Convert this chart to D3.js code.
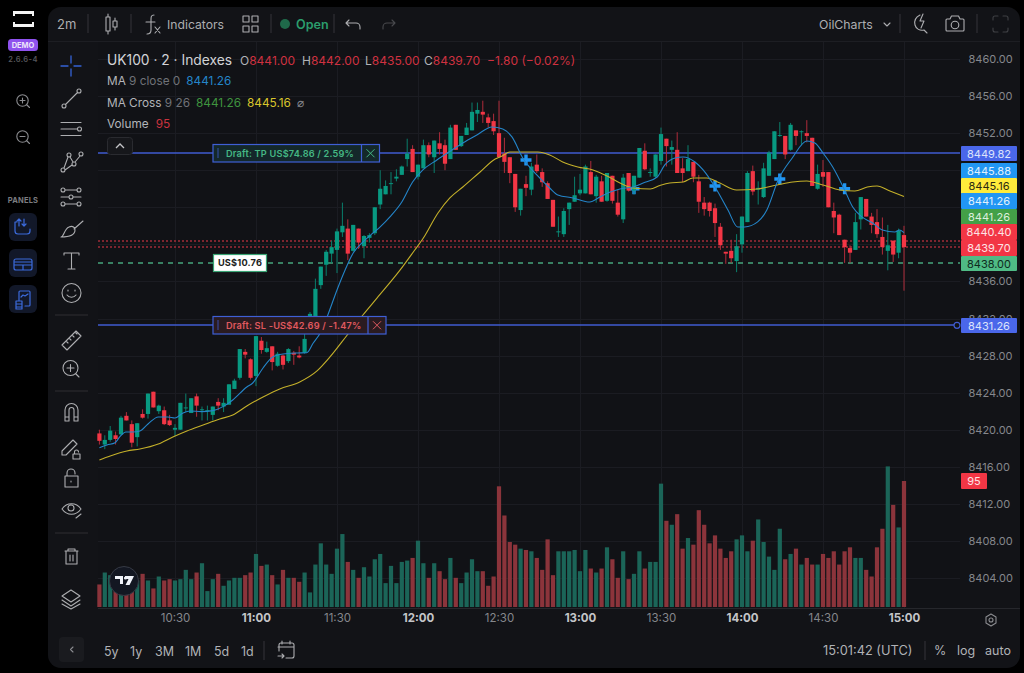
<!DOCTYPE html>
<html>
<head>
<meta charset="utf-8">
<script src="https://d3js.org/d3.v7.min.js"></script>
<style>
html, body { margin: 0; padding: 0; background: #000; overflow: hidden; }
svg { display: block; font-family: Inter, Roboto, sans-serif; }
</style>
</head>
<body>
<script>
// candles, one per 2 minute bar, 10:02 to 15:00
const opens = [
8419.6,8418.4,8418.9,8419.4,8419.5,8421.5,8420.6,8419.2,8421.7,8421.7,
8424.1,8422.0,8422.1,8421.0,8420.0,8420.0,8422.3,8421.8,8423.6,8422.1,
8422.0,8421.6,8423.0,8422.5,8422.7,8424.4,8425.6,8428.4,8427.6,8425.8,
8429.6,8428.4,8429.0,8426.9,8428.0,8427.4,8428.3,8428.0,8428.3,8430.8,
8431.3,8435.6,8437.8,8439.0,8439.4,8441.3,8441.7,8439.3,8441.7,8439.8,
8440.7,8441.2,8444.3,8445.4,8446.5,8447.1,8447.5,8449.2,8450.3,8447.3,
8448.2,8450.7,8449.4,8450.9,8450.7,8449.2,8452.9,8450.6,8451.8,8452.3,
8454.1,8454.3,8453.7,8453.3,8452.0,8449.8,8449.4,8447.6,8443.7,8446.5,
8445.9,8448.6,8447.8,8446.6,8444.8,8441.3,8441.1,8443.8,8444.6,8445.5,
8445.5,8447.8,8445.2,8446.8,8444.7,8447.4,8444.5,8442.7,8447.7,8445.8,
8447.2,8450.1,8447.7,8447.3,8449.0,8451.4,8450.2,8450.2,8448.2,8447.9,
8448.9,8446.8,8444.5,8444.5,8443.9,8441.9,8439.2,8439.3,8438.2,8440.0,
8442.4,8447.9,8445.9,8445.1,8447.4,8449.2,8451.7,8451.7,8450.2,8452.3,
8452.1,8452.0,8451.5,8446.0,8447.8,8447.8,8443.6,8443.2,8440.5,8439.6,
8439.4,8442.7,8444.9,8443.0,8442.4,8440.8,8439.3,8440.4,8439.1,8441.0]
const closes = [
8418.8,8418.9,8419.9,8419.0,8421.3,8421.0,8418.6,8420.7,8421.3,8423.9,
8422.4,8422.6,8420.6,8420.5,8420.2,8422.9,8422.4,8423.4,8422.6,8422.2,
8422.1,8422.5,8422.6,8422.9,8424.9,8425.3,8428.7,8428.1,8425.6,8430.1,
8428.6,8428.8,8427.3,8428.2,8427.0,8428.7,8428.1,8427.8,8429.8,8432.5,
8435.2,8437.6,8439.2,8439.7,8441.4,8442.0,8439.0,8442.1,8440.2,8440.9,
8441.0,8444.0,8446.0,8446.3,8446.6,8447.3,8448.4,8449.8,8447.8,8448.6,
8450.7,8449.7,8451.2,8450.3,8448.7,8452.6,8450.2,8451.7,8452.6,8454.3,
8454.5,8454.0,8453.1,8452.2,8449.4,8448.9,8447.7,8444.0,8446.0,8446.1,
8448.4,8447.9,8446.7,8444.9,8441.9,8441.4,8443.6,8444.5,8445.3,8445.9,
8448.4,8445.4,8447.3,8444.6,8447.7,8444.7,8443.2,8447.2,8445.8,8447.4,
8450.4,8448.1,8447.8,8449.7,8451.9,8450.6,8450.5,8447.7,8447.7,8449.2,
8447.3,8444.6,8443.8,8443.6,8442.3,8439.9,8439.0,8438.5,8439.8,8443.0,
8447.7,8445.7,8446.1,8448.2,8449.9,8452.2,8451.8,8449.7,8452.9,8451.7,
8452.2,8451.7,8446.3,8447.6,8447.3,8444.0,8442.9,8441.0,8439.7,8439.1,
8442.4,8445.1,8443.0,8442.1,8441.1,8439.7,8439.9,8438.9,8441.5,8439.7]
const highs = [
8420.0,8419.4,8420.4,8419.8,8421.5,8421.9,8421.0,8420.7,8422.2,8423.9,
8424.1,8422.7,8422.5,8421.6,8420.6,8422.9,8423.9,8423.4,8423.9,8422.5,
8422.6,8422.5,8423.4,8423.4,8424.9,8425.5,8428.7,8428.7,8427.7,8430.1,
8430.0,8429.5,8429.0,8428.4,8428.1,8428.8,8428.5,8429.0,8430.4,8432.7,
8436.3,8437.6,8439.4,8440.4,8441.7,8444.5,8442.7,8442.1,8441.7,8441.0,
8441.2,8444.0,8448.0,8446.9,8447.8,8448.1,8448.5,8451.4,8450.7,8448.6,
8451.3,8451.0,8451.2,8452.1,8451.3,8452.9,8452.9,8451.7,8453.1,8455.3,
8455.3,8455.5,8454.1,8454.1,8455.5,8451.5,8449.4,8447.6,8446.0,8447.4,
8448.8,8449.7,8448.2,8446.8,8444.8,8443.0,8443.9,8444.5,8447.3,8447.6,
8448.6,8449.0,8447.5,8447.4,8447.7,8447.4,8445.9,8447.6,8447.7,8447.4,
8450.4,8450.9,8448.2,8449.7,8452.6,8451.4,8451.2,8452.1,8449.3,8450.7,
8448.9,8447.5,8445.1,8444.6,8444.4,8442.3,8439.2,8440.5,8441.1,8443.0,
8447.9,8448.5,8446.8,8448.8,8450.1,8452.2,8453.2,8451.7,8453.1,8452.3,
8452.3,8453.4,8451.5,8448.6,8449.1,8447.8,8444.5,8443.3,8440.5,8439.9,
8443.4,8445.1,8444.9,8443.4,8443.8,8442.9,8442.1,8440.4,8441.7,8442.0]
const lows = [
8418.4,8417.9,8418.7,8418.4,8419.4,8421.0,8418.1,8418.2,8421.2,8421.2,
8422.4,8421.7,8420.5,8420.4,8419.3,8420.0,8421.9,8421.8,8421.4,8421.0,
8421.0,8421.0,8422.1,8421.9,8422.7,8424.4,8425.4,8427.7,8425.4,8424.7,
8428.2,8428.3,8426.4,8426.8,8426.5,8427.2,8427.0,8427.7,8428.2,8430.4,
8431.3,8435.2,8436.6,8438.0,8436.9,8440.8,8438.3,8439.2,8439.5,8438.5,
8440.2,8441.0,8443.8,8445.4,8445.4,8446.8,8447.5,8448.4,8447.8,8447.0,
8448.2,8449.4,8447.7,8449.7,8448.0,8449.2,8450.2,8450.5,8451.8,8452.3,
8453.2,8453.1,8452.6,8451.8,8449.4,8447.7,8446.6,8443.5,8443.1,8445.2,
8445.3,8447.7,8446.2,8444.9,8441.9,8440.8,8440.8,8442.1,8444.6,8445.3,
8445.5,8445.4,8444.5,8444.6,8444.6,8444.4,8443.0,8442.3,8445.7,8445.4,
8447.2,8448.0,8447.3,8447.2,8448.6,8448.4,8448.6,8447.7,8446.7,8447.9,
8446.7,8443.4,8443.1,8443.0,8440.8,8439.4,8437.9,8438.0,8437.0,8439.1,
8442.4,8445.3,8444.3,8445.0,8447.4,8449.2,8451.6,8449.2,8450.1,8450.7,
8450.7,8451.0,8446.3,8445.9,8446.2,8444.0,8441.2,8441.0,8438.0,8438.0,
8439.4,8441.6,8443.0,8441.2,8440.7,8438.9,8437.2,8438.1,8438.5,8435.0]
const volumes = [
17,26,24,17,15,17,18,20,25,20,
14,23,20,21,20,21,28,21,26,33,
12,21,25,16,20,22,22,24,26,40,
31,32,24,17,28,22,22,19,26,11,
32,48,32,25,44,55,34,28,22,30,
23,36,40,18,31,18,34,35,37,50,
33,22,33,27,21,37,22,18,26,36,
27,27,16,23,91,69,49,47,44,43,
42,37,28,51,24,42,42,42,43,27,
43,29,26,29,45,36,22,42,21,25,
42,29,34,34,93,65,62,70,44,52,
47,73,62,48,54,44,37,42,51,54,
42,50,66,49,38,28,59,36,40,44,
32,37,32,32,40,37,42,32,42,45,
37,37,28,23,45,59,106,77,60,95]

// moving average lines at these bar positions
const ma9Bars = [0,1.4,2.9,3.8,4.9,6.2,7.5,9,10.9,12.7,14,15.5,16.8,18.9,21,22.9,24.7,27.3,28.4,30.3,32.1,34,36.6,38.4,39.6,40.9,42.3,44,45.5,47,48.8,50.7,52,53.8,56,58,59.9,62.5,65.3,67.3,69.9,72.7,74.7,76.4,78.4,81,83.4,84.9,87.7,90.8,92.7,94.6,96.4,98.8,100.7,103.3,104.7,106.6,108.1,110.3,111.8,114,116.4,118.2,119.5,121.9,123.6,125.7,128.3,131,132.5,134,135.8,138,139.5,141.2,143.2,145,147.3,148.2,149]
const ma9Values = [8418.06,8418.35,8418.6,8419.25,8419.76,8419.76,8419.87,8420.62,8421.38,8421.38,8421.27,8421.81,8422.02,8421.95,8422.06,8422.49,8423.21,8424.61,8425.04,8426.66,8427.85,8428.17,8428.28,8428.31,8429.36,8430.44,8432.38,8435.08,8437.24,8439.07,8440.26,8441.23,8441.88,8442.96,8444.57,8446.73,8448.03,8449.11,8450.18,8450.94,8451.8,8452.67,8452.45,8451.59,8449.32,8447.49,8446.08,8445.33,8445.01,8444.57,8445.11,8445.65,8445.98,8446.19,8446.62,8447.27,8448.57,8449.32,8449.43,8448.89,8448.03,8446.19,8443.71,8441.88,8441.88,8442.42,8443.71,8446.95,8449.32,8451.16,8450.94,8449.86,8448.35,8445.87,8444.03,8442.96,8442.31,8441.55,8441.34,8441.55,8441.26]
const ma26Bars = [0,2,5.1,7.5,10.9,13.6,16.2,19.2,22.3,24.7,27.3,30.3,33.4,37.1,40.3,42.7,45.9,48.8,51.4,55.7,58.4,59.9,62.7,64.9,67.3,70.5,73.3,74.6,76,78.4,81.2,83.4,85.8,88.6,91.4,94,96.4,98.8,102,103.8,105.6,108.1,109.9,112.5,114.9,118,121.8,125.5,128.4,131,134,137.1,139.9,142.2,144,146.4,149]
const ma26Values = [8416.74,8417.17,8417.71,8417.92,8418.46,8419.22,8419.87,8420.51,8421.16,8421.59,8422.56,8423.53,8424.4,8425.15,8426.34,8427.85,8430.22,8432.38,8434.2,8437.24,8439.39,8440.6,8443.39,8445.01,8446.19,8447.81,8449.21,8449.54,8449.97,8449.97,8449.97,8449.65,8448.89,8448.35,8448.03,8447.38,8446.62,8446.08,8445.98,8446.35,8446.62,8446.73,8447.16,8447.16,8446.62,8445.87,8445.98,8446.41,8446.73,8446.84,8446.41,8445.87,8445.76,8446.19,8446.3,8445.76,8445.16]

// blue cross markers
const crossBars = [79,99,114,126,138]
const crossValues = [8449.1,8446.0,8446.3,8447.05,8446.0]

// axes
const priceTicks = [8460,8456,8452,8436,8432,8428,8424,8420,8416,8412,8408,8404]
const gridPrices = [8460,8456,8452,8448,8444,8440,8436,8432,8428,8424,8420,8416,8412,8408,8404]
const timeBars = [14,29,44,59,74,89,104,119,134,149]
const timeLabels = ['10:30','11:00','11:30','12:00','12:30','13:00','13:30','14:00','14:30','15:00']

// price tags on the axis
const tagPrices = [8449.82,8445.88,8445.16,8441.26,8441.26,8440.40,8439.70,8438.00,8431.26]
const tagTops = [146,163,178,193,209,224,240,256,318]
const tagFills = ['#4a67ea','#2196f3','#ffeb3b','#2196f3','#43a047','#f23645','#f23645','#4fbb85','#4a67ea']
const tagInks = ['#dde3fb','#e2f1fd','#2a2a12','#e2f1fd','#dcefdd','#fde4e6','#fde4e6','#0f2a1e','#dde3fb']

const width = 1024
const height = 673
const paneLeft = 98
const paneRight = 960
const paneTop = 42
const paneBottom = 608
const upColor = '#089981'
const downColor = '#f23645'
const bodyWidth = 4.2
const iconColor = '#adaeb1'

const svg = d3.select('body').append('svg').attr('width', width).attr('height', height)

const xScale = d3.scaleLinear().domain([0, 149]).range([99.4, 904])
const yScale = d3.scaleLinear().domain([8404, 8460]).range([578, 59])
const volScale = d3.scaleLinear().domain([0, 95]).range([607, 481])
const crisp = v => Math.round(v) + 0.5

const bars = opens.map((open, i) => ({ i, open, close: closes[i], high: highs[i], low: lows[i], volume: volumes[i], up: closes[i] >= open }))

// panel
svg.append('rect').attr('x', 48).attr('y', 7).attr('width', 972).attr('height', 661).attr('rx', 13).attr('fill', '#121317')
svg.append('rect').attr('x', paneLeft).attr('y', paneTop).attr('width', paneRight - paneLeft).attr('height', paneBottom - paneTop).attr('fill', '#111216')
svg.append('line').attr('x1', 48).attr('x2', 1020).attr('y1', 41.5).attr('y2', 41.5).attr('stroke', '#1d1e23')
svg.append('line').attr('x1', paneLeft).attr('x2', 1020).attr('y1', 608.5).attr('y2', 608.5).attr('stroke', '#26272c')

// grid
const grid = svg.append('g').attr('stroke', '#1b1c22').attr('stroke-width', 1)
grid.selectAll('line.h').data(gridPrices).join('line').attr('class', 'h')
  .attr('x1', paneLeft).attr('x2', paneRight).attr('y1', d => crisp(yScale(d))).attr('y2', d => crisp(yScale(d)))
grid.selectAll('line.v').data(timeBars).join('line').attr('class', 'v')
  .attr('x1', d => crisp(xScale(d))).attr('x2', d => crisp(xScale(d))).attr('y1', paneTop).attr('y2', paneBottom)

// volume
svg.append('g').selectAll('rect').data(bars).join('rect')
  .attr('x', d => xScale(d.i) - bodyWidth / 2)
  .attr('width', bodyWidth)
  .attr('y', d => volScale(d.volume))
  .attr('height', d => volScale(0) - volScale(d.volume))
  .attr('fill', d => d.up ? '#1b6558' : '#8b343b')

// position lines, straddling two pixel rows so the colour survives
const levelLine = (price, x2, color, dash) => svg.append('line').attr('x1', paneLeft).attr('x2', x2)
  .attr('y1', Math.round(yScale(price))).attr('y2', Math.round(yScale(price)))
  .attr('stroke', color).attr('stroke-width', 1.5).attr('stroke-dasharray', dash)
levelLine(8431.26, paneRight - 3, '#3f5bd0', null)
levelLine(8449.82, paneRight, '#3f5bd0', null)
levelLine(8438, paneRight, '#45a57c', '5 5')
levelLine(8440.4, paneRight, '#a02c38', '2 2')
levelLine(8439.7, paneRight, '#a02c38', '2 2')
svg.append('circle').attr('cx', 957).attr('cy', yScale(8431.26)).attr('r', 3).attr('fill', '#111216').attr('stroke', '#3f5bd0').attr('stroke-width', 1.2)

// cross markers
svg.append('g').selectAll('path').data(crossBars).join('path')
  .attr('transform', (d, i) => `translate(${xScale(d)},${yScale(crossValues[i])})`)
  .attr('d', 'M-5.5,0H5.5M0,-5.5V5.5')
  .attr('stroke', '#2196f3').attr('stroke-width', 3.4)

// candles
const candle = svg.append('g').selectAll('g').data(bars).join('g')
candle.append('line')
  .attr('x1', d => xScale(d.i)).attr('x2', d => xScale(d.i))
  .attr('y1', d => yScale(d.high)).attr('y2', d => yScale(d.low))
  .attr('stroke', d => d.up ? '#0a7f6c' : '#b02c3b').attr('stroke-width', 1)
candle.append('rect')
  .attr('x', d => xScale(d.i) - bodyWidth / 2)
  .attr('width', bodyWidth)
  .attr('y', d => yScale(Math.max(d.open, d.close)))
  .attr('height', d => Math.max(0.8, Math.abs(yScale(d.open) - yScale(d.close))))
  .attr('fill', d => d.up ? upColor : downColor)

// moving averages
const lineGen = d3.line().x(d => xScale(d[0])).y(d => yScale(d[1])).curve(d3.curveMonotoneX)
svg.append('path').attr('d', lineGen(d3.zip(ma26Bars, ma26Values))).attr('fill', 'none').attr('stroke', '#c4b02a').attr('stroke-width', 1.1)
svg.append('path').attr('d', lineGen(d3.zip(ma9Bars, ma9Values))).attr('fill', 'none').attr('stroke', '#2485c9').attr('stroke-width', 1.1)

// axes
const yAxis = d3.axisRight(yScale).tickValues(priceTicks).tickSize(0).tickPadding(0).tickFormat(d3.format('.2f'))
const yAxisG = svg.append('g').attr('transform', 'translate(968.5,0)').call(yAxis)
yAxisG.select('.domain').remove()
yAxisG.selectAll('text').attr('font-size', 11).attr('font-family', 'Inter').attr('fill', '#85878c')

const xAxis = d3.axisBottom(xScale).tickValues(timeBars).tickSize(0).tickPadding(0).tickFormat((d, i) => timeLabels[i])
const xAxisG = svg.append('g').attr('transform', 'translate(0,614)').call(xAxis)
xAxisG.select('.domain').remove()
xAxisG.selectAll('text').attr('font-size', 11.5).attr('font-family', 'Inter')
  .attr('fill', (d, i) => i % 2 ? '#c4c5c8' : '#85878c')
  .attr('font-weight', (d, i) => i % 2 ? 700 : 400)

// axis tags
const tags = svg.append('g').selectAll('g').data(tagPrices).join('g')
  .attr('transform', (d, i) => `translate(961,${tagTops[i]})`)
tags.append('rect').attr('width', 56).attr('height', (d, i) => i === 7 || i === 0 || i === 8 ? 15 : 16).attr('rx', 1).attr('fill', (d, i) => tagFills[i])
tags.append('text').attr('x', 28).attr('y', 12).attr('text-anchor', 'middle').attr('font-size', 11)
  .attr('fill', (d, i) => tagInks[i]).text(d => d3.format('.2f')(d))
svg.append('rect').attr('x', 961).attr('y', 473).attr('width', 26).attr('height', 16).attr('rx', 1).attr('fill', '#f23645')
svg.append('text').attr('x', 974).attr('y', 485).attr('text-anchor', 'middle').attr('font-size', 11).attr('fill', '#fde4e6').text(volumes[149])

// text helper
function label(x, y, str, color, size, extra) {
  const t = svg.append('text').attr('x', x).attr('y', y).attr('fill', color).attr('font-size', size).text(str)
  if (extra) Object.entries(extra).forEach(([k, v]) => t.attr(k, v))
  return t
}

// order boxes
function orderBox(x, y, w, sepX, h, fill, ink, str) {
  svg.append('rect').attr('x', x).attr('y', y).attr('width', w).attr('height', h).attr('fill', fill).attr('stroke', '#3f5fd6').attr('stroke-width', 1.2)
  svg.append('line').attr('x1', sepX).attr('x2', sepX).attr('y1', y).attr('y2', y + h).attr('stroke', '#3f5fd6').attr('stroke-width', 1.2)
  svg.append('line').attr('x1', x + 5).attr('x2', x + 5).attr('y1', y + 4).attr('y2', y + h - 4).attr('stroke', '#3f5fd6').attr('stroke-dasharray', '1 1').attr('stroke-width', 1.5)
  label(x + 13, y + 12.3, str, ink, 9.2, { 'font-weight': 600, 'letter-spacing': 0.2, 'font-family': 'Inter' })
  const cx = (sepX + x + w) / 2, cy = y + h / 2
  svg.append('path').attr('d', `M${cx - 4},${cy - 4}L${cx + 4},${cy + 4}M${cx + 4},${cy - 4}L${cx - 4},${cy + 4}`).attr('stroke', ink).attr('fill', 'none')
}
orderBox(213, 144.5, 166.5, 361.5, 17.5, '#14282a', '#45b884', 'Draft: TP US$74.86 / 2.59%')
orderBox(213, 316.5, 173, 368, 17.5, '#2a1b20', '#e0595f', 'Draft: SL -US$42.69 / -1.47%')
svg.append('rect').attr('x', 213.5).attr('y', 254.5).attr('width', 53).attr('height', 17).attr('fill', '#fff').attr('stroke', '#3aa575').attr('stroke-width', 1.2)
label(240, 266.3, 'US$10.76', '#1c1e22', 9.2, { 'font-weight': 700, 'text-anchor': 'middle', 'letter-spacing': 0.2 })

// legend
label(107, 65, 'UK100 · 2 · Indexes', '#d2d3d6', 13.8)
const ohlc = [[240, 'O', '8441.00'], [302, 'H', '8442.00'], [365, 'L', '8435.00'], [424, 'C', '8439.70']]
ohlc.forEach(([x, k, v]) => {
  const t = label(x, 64.5, k, '#b0b2b6', 12)
  t.append('tspan').attr('fill', '#cf3140').text(v)
})
label(487, 64.5, '−1.80 (−0.02%)', '#cf3140', 12)
const legendLine = (y, parts) => {
  const t = svg.append('text').attr('x', 107).attr('y', y).attr('font-size', 11.8)
  parts.forEach(([s, c, dx]) => t.append('tspan').attr('fill', c).attr('dx', dx || 0).text(s))
}
legendLine(85, [['MA', '#b3b5b9'], [' 9 close 0', '#707278'], ['8441.26', '#2485c9', 6]])
legendLine(106.5, [['MA Cross', '#b3b5b9'], [' 9 26', '#707278'], ['8441.26', '#3f943f', 6], ['8445.16', '#d8c52c', 6], ['⌀', '#85878c', 6]])
legendLine(128, [['Volume', '#b3b5b9'], ['95', '#c9323e', 7]])
svg.append('rect').attr('x', 107.5).attr('y', 137.5).attr('width', 25).attr('height', 17).attr('rx', 3).attr('fill', '#16171b').attr('stroke', '#2a2b30')
svg.append('path').attr('d', 'M116,148l4,-4l4,4').attr('fill', 'none').attr('stroke', '#c4c5c8').attr('stroke-width', 1.3)

// tradingview badge
svg.append('circle').attr('cx', 124).attr('cy', 581).attr('r', 14.5).attr('fill', '#131722').attr('stroke', '#363a45').attr('stroke-width', 1)
svg.append('path').attr('d', 'M115,576h8v8h-3v-5h-5zM125,576h9l-4.5,9h-4l3,-6h-3.5z').attr('fill', '#f0f3fa')
svg.append('circle').attr('cx', 125.5).attr('cy', 578).attr('r', 1.6).attr('fill', '#f0f3fa')

// icons
function icon(d, color, w, opacity) {
  svg.append('path').attr('d', d).attr('fill', 'none').attr('stroke', color || iconColor).attr('stroke-width', w || 1.1)
    .attr('stroke-linecap', 'round').attr('stroke-linejoin', 'round').attr('opacity', opacity || 1)
}
const circ = (x, y, r) => `M${x - r},${y}a${r},${r} 0 1,0 ${2 * r},0a${r},${r} 0 1,0 ${-2 * r},0`

// sidebar
svg.append('path').attr('d', 'M13,11h21v5h-2v-2h-17v2h-2zM13,22h2v2h17v-2h2v5h-21z').attr('fill', '#f4f4f4')
svg.append('rect').attr('x', 8).attr('y', 39).attr('width', 30).attr('height', 12).attr('rx', 3.5).attr('fill', '#8f52ee')
label(23, 48, 'DEMO', '#ece4fb', 7.5, { 'text-anchor': 'middle', 'font-weight': 700 })
label(23, 62, '2.6.6-4', '#56575b', 7.5, { 'text-anchor': 'middle', 'font-weight': 600, 'letter-spacing': 0.4 })
icon(circ(22.5, 100.5, 5.7) + 'M27,105l2.5,2.5M20,100.5h5M22.5,98v5', '#8b8c90')
icon(circ(22.5, 136.5, 5.7) + 'M27,141l2.5,2.5M20,136.5h5', '#8b8c90')
label(23, 203, 'PANELS', '#7b7c80', 7.5, { 'text-anchor': 'middle', 'font-weight': 700, 'letter-spacing': 0.2 })
const panelIcons = [
  'M17,222h-2v9a3,3 0 0,0 3,3h9a3,3 0 0,0 3,-3v-2M19,226v-7m-2,2l2,-2l2,2M24,219v7m-2,-2l2,2l2,-2',
  'M14,262h18v3h-18zM14,262v-1a2,2 0 0,1 2,-2h14a2,2 0 0,1 2,2v1M14,265v3a2,2 0 0,0 2,2h14a2,2 0 0,0 2,-2v-3M23,265v5',
  'M19,300v-8a1,1 0 0,1 1,-1h9a1,1 0 0,1 1,1v13a1,1 0 0,1 -1,1h-4M21,297l2,-2l2,1l3,-2M16,301h6v3h-6zM16,304h6v3h-6zM16,307h6v2h-6z'
]
;[213, 249, 285].forEach((y, i) => {
  svg.append('rect').attr('x', 9).attr('y', y).attr('width', 28).attr('height', 28).attr('rx', 6).attr('fill', '#121829')
  icon(panelIcons[i], '#3b6bdc', 1.2)
})

// drawing toolbar
icon('M71,56v7M71,69v7M61,66h7M74,66h7', '#3463d6', 1.3)
icon(circ(64, 106, 2) + circ(79, 91, 2) + 'M65.5,104.5L77.5,92.5')
icon('M61,122.5h20M61,129h16M61,135.5h20' + circ(79.5, 129, 2))
icon(circ(63, 170, 2) + circ(69, 155, 2) + circ(74, 164, 2) + circ(81, 154, 2) + 'M64,168L68,157M70,157L73,162M75,162L80,156M65,170L72,165')
icon(circ(63, 190, 2) + circ(79, 190, 2) + circ(63, 204, 2) + circ(79, 204, 2) + circ(71, 197, 2) + 'M65,190h12M65,204h12M61,197h8M73,197h8')
icon('M61,237c3,0 3,-8 8,-10c4,-2 6,1 6,3c0,3 -2,7 -14,7zM74,229l9,-8')
icon('M64,255v-2h15v2M71.5,253v16M68,269h7')
icon(circ(71.5, 293, 9.5) + 'M67,295c2,3 7,3 9,0M68,290v1M75,290v1')
icon('M62,345l14,-14l5,5l-14,14zM66,341l2,2M69,338l2,2M72,335l2,2M75,332l2,2')
icon(circ(70.5, 368, 7.5) + 'M76,374l3,3M67,368h7M70.5,364.5v7')
icon('M65,421v-11a6.5,6.5 0 0,1 13,0v11h-4v-11a2.5,2.5 0 0,0 -5,0v11zM65,417h4M74,417h4')
icon('M62,451l11,-11l4,4l-11,11h-4zM73,454h7v5h-7zM74.5,454v-2a2,2 0 0,1 4,0')
icon('M65,476h13v11h-13zM67,476v-3a4,4 0 0,1 8,0v1M71,481v1')
icon('M62,509c5,-7 14,-7 19,0c-5,7 -14,7 -19,0z' + circ(71, 508, 3) + 'M76,518l5,-4')
icon('M65,551h13M68,551v-2h7v2M66,551v13h11v-13M70,555v6M73,555v6')
icon('M71,590l9,6l-9,6l-9,-6zM62,600l9,6l9,-6M62,604l9,5l9,-5')
for (const y of [315, 391, 533]) svg.append('line').attr('x1', 55).attr('x2', 88).attr('y1', y).attr('y2', y).attr('stroke', '#2e2f33')

// top bar
label(57, 29, '2m', iconColor, 13)
for (const x of [88, 131, 271, 334, 900, 977]) svg.append('line').attr('x1', x).attr('x2', x).attr('y1', 14).attr('y2', 33).attr('stroke', '#34353a')
icon('M106,17h4v14h-4zM108,14v3M108,31v3M113,21h4v6h-4zM115,18v3M115,27v3')
icon('M154,15c-3,0 -3,2 -3,5v10c0,2 -1,4 -4,4M146,22h9M155,27l5,6M160,27l-5,6')
label(167, 29, 'Indicators', iconColor, 12.2)
icon('M243,16h6v6h-6zM252,16h6v6h-6zM243,26h6v6h-6zM252,26h6v6h-6z')
svg.append('circle').attr('cx', 285).attr('cy', 24).attr('r', 5).attr('fill', '#1f6a4a')
label(296, 29, 'Open', '#2b9d6c', 12.6, { 'font-weight': 600 })
icon('M349,20l-3,3l3,3M346,23h10a4,4 0 0,1 4,4v2')
icon('M392,20l3,3l-3,3M395,23h-8a4,4 0 0,0 -4,4v2', '#48494d')
label(819, 29, 'OilCharts', iconColor, 12.3)
icon('M884,23l3,3l3,-3')
icon('M920,15c-4,2 -6,6 -5,10c1,4 5,6 9,5l3,3M923,14l-3,7h4l-3,7')
icon('M947,19h3l1.5,-3h7l1.5,3h3a1,1 0 0,1 1,1v10a1,1 0 0,1 -1,1h-16a1,1 0 0,1 -1,-1v-10a1,1 0 0,1 1,-1z' + circ(955, 25, 3.8))
icon('M993,20v-2a2,2 0 0,1 2,-2h3M1003,16h3a2,2 0 0,1 2,2v2M1008,28v2a2,2 0 0,1 -2,2h-3M998,32h-3a2,2 0 0,1 -2,-2v-2', '#3f4044')

// bottom bar
svg.append('rect').attr('x', 59).attr('y', 637).attr('width', 25).attr('height', 25).attr('rx', 4).attr('fill', '#1a1b1f')
icon('M73,647l-2.5,2.5l2.5,2.5', '#8b8c90')
const ranges = [['5y', 104], ['1y', 130], ['3M', 155], ['1M', 185], ['5d', 214], ['1d', 241]]
ranges.forEach(([s, x]) => label(x, 655.5, s, '#b0b2b6', 12.5))
svg.append('line').attr('x1', 264).attr('x2', 264).attr('y1', 641).attr('y2', 660).attr('stroke', '#34353a')
icon('M279,651v-6a2,2 0 0,1 2,-2h11a2,2 0 0,1 2,2v11a2,2 0 0,1 -2,2h-6M278,647h16M282,641v3M290,641v3M278,656h6m-2,-2l2,2l-2,2')
label(823, 655, '15:01:42 (UTC)', '#b0b2b6', 12.8)
svg.append('line').attr('x1', 925).attr('x2', 925).attr('y1', 641).attr('y2', 660).attr('stroke', '#34353a')
label(934, 655, '%', '#b0b2b6', 12.5)
label(957, 655, 'log', '#b0b2b6', 12.5)
label(985, 655, 'auto', '#b0b2b6', 12.5)
icon('M991,614l5,3v6l-5,3l-5,-3v-6z' + circ(991, 620, 2), '#8b8c90')
</script>
</body>
</html>
